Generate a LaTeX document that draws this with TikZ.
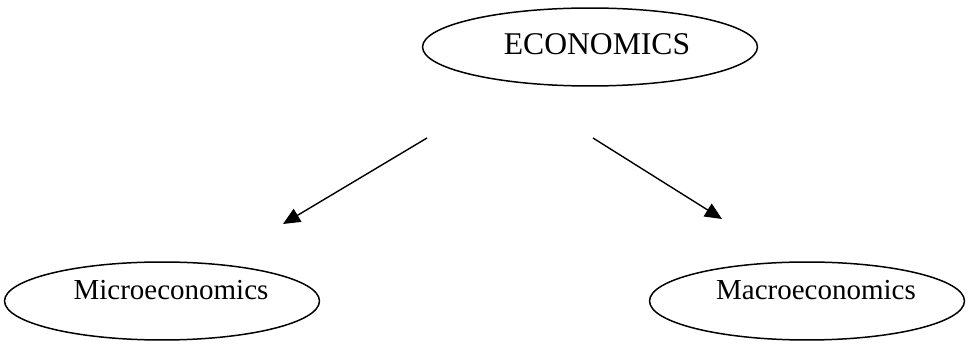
\documentclass[tikz,border=0pt]{standalone}
\usepackage{fontspec}
\setmainfont{Liberation Serif}
\usetikzlibrary{arrows.meta,shapes.geometric}

\begin{document}
\begin{tikzpicture}[x=0.02cm,y=-0.02cm,>={Triangle[length=0.34cm,width=0.3cm]},
  every node/.style={font=\fontsize{16.5}{19}\selectfont}]
\useasboundingbox (0,0) rectangle (975,344);
\node[draw,ellipse,line width=0.85pt,inner sep=0pt,minimum width=6.7cm,minimum height=1.56cm,
  text height=0.45cm,text depth=0.14cm,font=\fontsize{18}{21}\selectfont] (eco) at (590,47) {\hspace*{0.28cm}ECONOMICS};
\node[draw,ellipse,line width=0.85pt,inner sep=0pt,minimum width=6.3cm,minimum height=1.56cm,
  text height=0.4cm,text depth=0.45cm] (micro) at (162,301) {\hspace*{0.36cm}Microeconomics};
\node[draw,ellipse,line width=0.85pt,inner sep=0pt,minimum width=6.3cm,minimum height=1.56cm,
  text height=0.4cm,text depth=0.45cm] (macro) at (807,301) {\hspace*{0.36cm}Macroeconomics};
\coordinate (l1) at (427,138);
\coordinate (l2) at (283,224);
\coordinate (r1) at (593,138);
\coordinate (r2) at (722,219);
\draw[->,line width=0.8pt] (l1) -- (l2);
\draw[->,line width=0.8pt] (r1) -- (r2);
\end{tikzpicture}
\end{document}
